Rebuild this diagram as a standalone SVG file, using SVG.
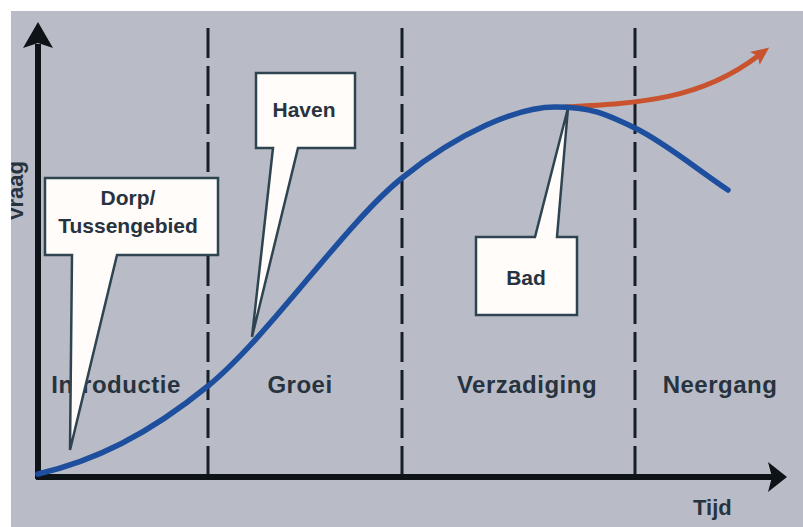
<svg xmlns="http://www.w3.org/2000/svg" width="803" height="527" viewBox="0 0 803 527">
  <defs>
    <style>
      .phase { font-family: "Liberation Sans", Arial, sans-serif; font-weight: bold; font-size: 24px; letter-spacing: 0.5px; fill: #27333f; text-anchor: middle; }
      .axis-label { font-family: "Liberation Sans", Arial, sans-serif; font-weight: bold; font-size: 22px; fill: #27333f; }
      .callout { fill: #fffcfa; stroke: #2e4450; stroke-width: 2.5; stroke-linejoin: miter; }
      .callout-text { font-family: "Liberation Sans", Arial, sans-serif; font-weight: bold; font-size: 21px; fill: #27333f; text-anchor: middle; }
      .divider { stroke: #161e26; stroke-width: 3; stroke-dasharray: 30 8; fill: none; }
      .axis { stroke: #0e1318; stroke-width: 6; fill: none; }
    </style>
    <clipPath id="panel">
      <rect x="11" y="11" width="792" height="516"/>
    </clipPath>
    <marker id="arrow-orange" markerUnits="userSpaceOnUse" markerWidth="24" markerHeight="24" refX="4" refY="10" orient="auto">
      <path d="M0,2 L18,10 L0,18 L4,10 Z" fill="#c9532e"/>
    </marker>
  </defs>

  <!-- panel background -->
  <rect x="0" y="0" width="803" height="527" fill="#ffffff"/>
  <rect x="11" y="11" width="792" height="516" fill="#b9bcc6"/>

  <!-- phase dividers -->
  <g id="dividers">
    <line class="divider" x1="208" y1="28" x2="208" y2="476"/>
    <line class="divider" x1="402" y1="28" x2="402" y2="476"/>
    <line class="divider" x1="635" y1="28" x2="635" y2="476"/>
  </g>

  <!-- axes -->
  <g id="axes">
    <line class="axis" x1="38" y1="479" x2="38" y2="44"/>
    <path d="M38,22 L53,48 L38,43 L23,48 Z" fill="#0e1318"/>
    <line class="axis" x1="36" y1="477" x2="772" y2="477"/>
    <path d="M787,477 L768,492 L772,477 L768,462 Z" fill="#0e1318"/>
    <text class="axis-label" x="693" y="515">Tijd</text>
    <g clip-path="url(#panel)">
      <text class="axis-label" transform="translate(23,191) rotate(-90)" text-anchor="middle">Vraag</text>
    </g>
  </g>

  <!-- phase labels -->
  <g id="phases">
    <text class="phase" x="116" y="393">Introductie</text>
    <text class="phase" x="300" y="393">Groei</text>
    <text class="phase" x="527" y="393">Verzadiging</text>
    <text class="phase" x="720" y="393">Neergang</text>
  </g>

  <!-- callouts -->
  <g id="callout-dorp">
    <path class="callout" d="M45,178 H218 V255 H117 L70,450 L72,255 H45 Z"/>
    <text class="callout-text" x="128" y="205">Dorp/</text>
    <text class="callout-text" x="128" y="233">Tussengebied</text>
  </g>
  <g id="callout-haven">
    <path class="callout" d="M256,73 H355 V148 H298 L252,337 L273,148 H256 Z"/>
    <text class="callout-text" x="304" y="117">Haven</text>
  </g>
  <g id="callout-bad">
    <path class="callout" d="M476,237 H535 L568,108 L557,237 H577 V315 H476 Z"/>
    <text class="callout-text" x="526" y="285">Bad</text>
  </g>

  <!-- demand curves -->
  <g id="connectors">
    <path d="M565,107 C640,103 700,100 758,56" fill="none" stroke="#c9532e" stroke-width="5" stroke-linecap="round" marker-end="url(#arrow-orange)"/>
    <path d="M38,474 C94.7,460.7 147.3,435.3 208,386 C268.7,336.7 344.2,224.5 402,178 C459.8,131.5 518.3,107 555,107 C591.7,107 606.2,114.2 635,128 C663.8,141.8 697,169.3 728,190" fill="none" stroke="#1d4f9e" stroke-width="5.5" stroke-linecap="round"/>
  </g>
</svg>
